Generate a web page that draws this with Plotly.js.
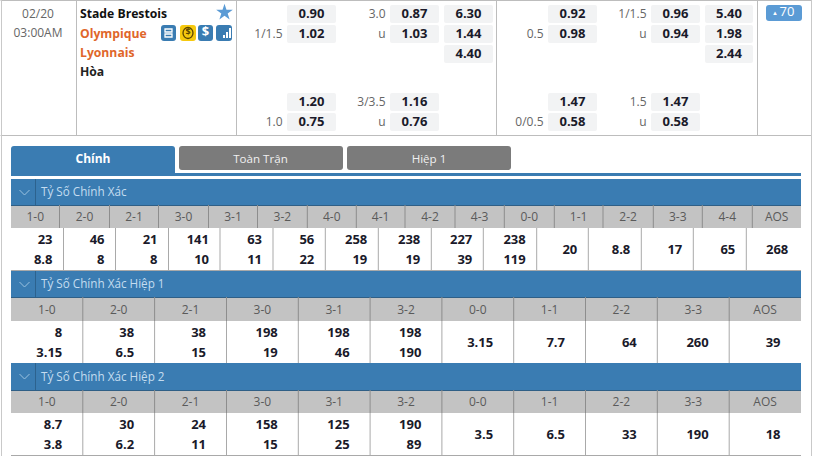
<!DOCTYPE html>
<html><head><meta charset="utf-8">
<script src="https://cdn.plot.ly/plotly-3.0.1.min.js"></script>
<style>html,body{margin:0;padding:0;background:#fff}#c{width:813px;height:456px}</style>
</head><body><div id="c"></div>
<script>
// ---------- data: text and values ----------
const dateLines = ["02/20", "03:00AM"];
const homeTeam = "Stade Brestois";
const awayTeamLines = ["Olympique", "Lyonnais"];
const drawLabel = "Hòa";
const badgeArrow = "▲";
const badgeValue = "70";
const tabNames = ["Chính", "Toàn Trận", "Hiệp 1"];

const ftHandicapMain = ["0.90", "1.02"];
const ftHandicapLine = ["", "1/1.5"];
const ftTotalLine = ["3.0", "u"];
const ftTotalMain = ["0.87", "1.03"];
const ft1x2 = ["6.30", "1.44", "4.40"];
const ftHandicapAlt = ["1.20", "0.75"];
const ftHandicapAltLine = ["", "1.0"];
const ftTotalAltLine = ["3/3.5", "u"];
const ftTotalAlt = ["1.16", "0.76"];

const htHandicapMain = ["0.92", "0.98"];
const htHandicapLine = ["", "0.5"];
const htTotalLine = ["1/1.5", "u"];
const htTotalMain = ["0.96", "0.94"];
const ht1x2 = ["5.40", "1.98", "2.44"];
const htHandicapAlt = ["1.47", "0.58"];
const htHandicapAltLine = ["", "0/0.5"];
const htTotalAltLine = ["1.5", "u"];
const htTotalAlt = ["1.47", "0.58"];

const sec1Title = "Tỷ Số Chính Xác";
const sec1Scores = ["1-0","2-0","2-1","3-0","3-1","3-2","4-0","4-1","4-2","4-3","0-0","1-1","2-2","3-3","4-4","AOS"];
const sec1Top = ["23","46","21","141","63","56","258","238","227","238"];
const sec1Bottom = ["8.8","8","8","10","11","22","19","19","39","119"];
const sec1Single = ["20","8.8","17","65","268"];

const sec2Title = "Tỷ Số Chính Xác Hiệp 1";
const sec2Scores = ["1-0","2-0","2-1","3-0","3-1","3-2","0-0","1-1","2-2","3-3","AOS"];
const sec2Top = ["8","38","38","198","198","198"];
const sec2Bottom = ["3.15","6.5","15","19","46","190"];
const sec2Single = ["3.15","7.7","64","260","39"];

const sec3Title = "Tỷ Số Chính Xác Hiệp 2";
const sec3Scores = ["1-0","2-0","2-1","3-0","3-1","3-2","0-0","1-1","2-2","3-3","AOS"];
const sec3Top = ["8.7","30","24","158","125","190"];
const sec3Bottom = ["3.8","6.2","11","15","25","89"];
const sec3Single = ["3.5","6.5","33","190","18"];

// ---------- layout geometry ----------
const FONT = '"Open Sans", sans-serif';
const BLUE = '#3a7cb2', GREYTXT = '#5a5a5a', HEAD = '#c3c3c3', LINE = '#a9a9a9';
const shapes = [], traces = [];
function rect(x0,y0,x1,y1,fill){shapes.push({type:'rect',x0,y0,x1,y1,fillcolor:fill,line:{width:0},layer:'below'});}
function line(x0,y0,x1,y1,color,w){shapes.push({type:'line',x0,y0,x1,y1,line:{color,width:w||1},layer:'below'});}
function rr(x0,y0,x1,y1,r,fill){
  const p=`M${x0+r},${y0} L${x1-r},${y0} Q${x1},${y0} ${x1},${y0+r} L${x1},${y1-r} Q${x1},${y1} ${x1-r},${y1} L${x0+r},${y1} Q${x0},${y1} ${x0},${y1-r} L${x0},${y0+r} Q${x0},${y0} ${x0+r},${y0} Z`;
  shapes.push({type:'path',path:p,fillcolor:fill,line:{width:0},layer:'below'});
}
const DY=1;
function txt(xs,ys,ts,pos,size,color,bold){
  traces.push({type:'scatter',mode:'text',x:xs,y:ys.map(y=>y+DY),text:ts,textposition:pos,hoverinfo:'skip',showlegend:false,
    textfont:{family:FONT,size,color,weight:bold?700:400}});
}
const TOLEFT='middle left',TORIGHT='middle right',C='middle center';

// outer frame
line(0.5,0.5,811.5,0.5,'#bdbdbd');
line(0.5,135.5,811.5,135.5,'#bdbdbd');
line(1.5,0,1.5,456,'#c9c9c9');
line(811.5,0,811.5,456,'#c9c9c9');
[76.5,236.5,496.5,757.5].forEach(x=>line(x,0,x,135,'#bdbdbd'));

// date + teams
txt([38,38],[14,32.5],dateLines,C,12,'#666',false);
txt([80],[13.5],[homeTeam],TORIGHT,12.2,'#111',true);
txt([80,80],[33.5,52.5],awayTeamLines,TORIGHT,12.2,'#e0662a',true);
txt([80],[71.5],[drawLabel],TORIGHT,12.2,'#222',true);
traces.push({type:'scatter',mode:'markers',x:[224.5],y:[12.5],marker:{symbol:'star',size:12.5,color:'#5b9bd5'},hoverinfo:'skip',showlegend:false});

// icons
rr(161,25,176,41,3,'#3a7cb2'); rr(180,25,196,41,3,'#f6c90e'); rr(198,25,213,41,3,'#3a7cb2'); rr(216,25,232,41,3,'#3a7cb2');
shapes.push({type:'path',path:'M165,29 L172,29 L172,32 L165,32 Z M165,34 L172,34 L172,37 L165,37 Z',fillcolor:'rgba(0,0,0,0)',line:{color:'#fff',width:1.3}});
shapes.push({type:'circle',x0:183,y0:27.5,x1:193,y1:38.5,fillcolor:'rgba(0,0,0,0)',line:{color:'#5a4500',width:1.3}});
[[223,35,225,38],[226,32,228,38],[229,28,231,38]].forEach(b=>shapes.push({type:'rect',x0:b[0],y0:b[1],x1:b[2],y1:b[3],fillcolor:'#fff',line:{width:0}}));
txt([188],[32],['$'],C,9,'#5a4500',true);
txt([205.5],[32],['$'],C,13,'#fff',true);

// odds chips
function chips(xLeft,width,yTops,vals,lineTxt,lineX){
  vals.forEach((v,i)=>rr(xLeft,yTops[i],xLeft+width,yTops[i]+18,2,'#f2f3f4'));
  txt(vals.map(()=>xLeft+width/2),yTops.slice(0,vals.length).map(y=>y+9),vals,C,13,'#1a1a2a',true);
  if(lineTxt) txt(lineTxt.map(()=>lineX),yTops.slice(0,lineTxt.length).map(y=>y+9),lineTxt,TOLEFT,12,'#666',false);
}
const top3=[5,25,45], low2=[93,113];
chips(287,49,top3,ftHandicapMain,ftHandicapLine,282.5);
chips(390,49,top3,ftTotalMain,ftTotalLine,385.5);
chips(444,49,top3,ft1x2);
chips(287,49,low2,ftHandicapAlt,ftHandicapAltLine,282.5);
chips(390,49,low2,ftTotalAlt,ftTotalAltLine,385.5);
chips(548,49,top3,htHandicapMain,htHandicapLine,543.5);
chips(651,49,top3,htTotalMain,htTotalLine,646.5);
chips(705,48,top3,ht1x2);
chips(548,49,low2,htHandicapAlt,htHandicapAltLine,543.5);
chips(651,49,low2,htTotalAlt,htTotalAltLine,646.5);

// badge
rr(766,5,802,21,3,'#5b9bd5');
txt([775],[12],[badgeArrow],C,6,'#fff',false);
txt([787],[12],[badgeValue],C,13,'#fff',false);

// tabs
rect(11,173,801,176,BLUE);
shapes.push({type:'path',path:'M11,176 L11,149 Q11,146 14,146 L172,146 Q175,146 175,149 L175,176 Z',fillcolor:BLUE,line:{width:0},layer:'below'});
rr(179,146,343,170,3,'#7b7b7b'); rr(347,146,511,170,3,'#7b7b7b');
txt([93],[159],[tabNames[0]],C,12,'#fff',true);
txt([260.5,429],[159,159],tabNames.slice(1),C,11.6,'#f0f0f0',false);

// score sections
function section(cfg){
  const {hy0,hy1,cy1,dy1,title,scores,headEdges,dataEdges,top,bottom,single,pad}=cfg;
  rect(11,hy0,801,hy1,BLUE);
  line(35.5,hy0,35.5,hy1,'#2c628e');
  shapes.push({type:'path',path:`M19.5,${hy0+11} L24.5,${hy0+16} L29.5,${hy0+11}`,line:{color:'#9cc3e0',width:1}});
  txt([41],[(hy0+hy1)/2+.5],[title],TORIGHT,11.7,'#c4dcf0',false);
  rect(11,hy1,801,cy1,HEAD);
  line(11,hy1+.5,801,hy1+.5,'#2f5f86');
  headEdges.slice(1,-1).forEach(x=>line(x,hy1,x,cy1,'#8d8d8d'));
  dataEdges.slice(1,-1).forEach(x=>line(x,cy1,x,dy1,LINE));
  const centers=scores.map((_,i)=>(headEdges[i]+headEdges[i+1])/2);
  txt(centers,scores.map(()=>(hy1+cy1)/2+.7),scores,C,12,GREYTXT,false);
  const rights=dataEdges.slice(1).map(x=>x-pad);
  const n=top.length;
  txt(rights.slice(0,n),top.map(()=>cy1+11.8),top,TOLEFT,13,'#1a1a2a',true);
  txt(rights.slice(0,n),bottom.map(()=>cy1+31.8),bottom,TOLEFT,13,'#1a1a2a',true);
  txt(rights.slice(n,n+single.length),single.map(()=>cy1+21.8),single,TOLEFT,13,'#1a1a2a',true);
}
const e2=[11,82.8,154.6,226.5,298.3,370.1,441.9,513.7,585.5,657.3,729.2,801];
section({hy0:179,hy1:205,cy1:228,dy1:270,title:sec1Title,scores:sec1Scores,
  headEdges:[11,59.5,109.5,158.5,208.5,257.5,307.3,356.3,405,455,504.3,554.3,603,653.3,702.3,752.3,801],
  dataEdges:[11,63.5,115.5,168.5,220,273,325.3,378.3,431.3,483.3,536.7,588.3,641.3,693.3,746.3,799.3],
  top:sec1Top,bottom:sec1Bottom,single:sec1Single,pad:11});
section({hy0:271,hy1:297,cy1:321,dy1:363,title:sec2Title,scores:sec2Scores,headEdges:e2,dataEdges:e2,top:sec2Top,bottom:sec2Bottom,single:sec2Single,pad:20.5});
section({hy0:363,hy1:390,cy1:413,dy1:455,title:sec3Title,scores:sec3Scores,headEdges:e2,dataEdges:e2,top:sec3Top,bottom:sec3Bottom,single:sec3Single,pad:20.5});
line(11,455.5,801,455.5,LINE);
line(11,270.5,801,270.5,LINE);

Plotly.newPlot('c',traces,{
  width:813,height:456,margin:{l:0,r:0,t:0,b:0},paper_bgcolor:'#fff',plot_bgcolor:'#fff',showlegend:false,
  xaxis:{range:[0,813],visible:false,fixedrange:true},
  yaxis:{range:[456,0],visible:false,fixedrange:true},
  shapes
},{displayModeBar:false,staticPlot:true});
</script></body></html>
